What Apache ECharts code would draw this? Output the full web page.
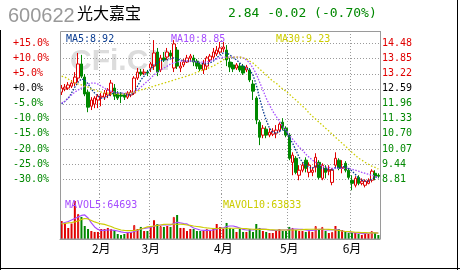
<!DOCTYPE html>
<html><head><meta charset="utf-8">
<script src="https://cdn.jsdelivr.net/npm/echarts@6/dist/echarts.min.js"></script>
<style>html,body{margin:0;padding:0;background:#fff;overflow:hidden}#c{width:460px;height:270px}</style>
</head><body><div id="c"></div>
<script>
const categories = [
"01-16","01-17","01-18","01-19","01-22","01-23","01-24","01-25","01-26","01-29","01-30","01-31",
"02-01","02-02","02-05","02-06","02-07","02-08","02-09","02-12","02-13","02-14","02-22","02-23","02-26","02-27","02-28",
"03-01","03-02","03-05","03-06","03-07","03-08","03-09","03-12","03-13","03-14","03-15","03-16","03-19","03-20","03-21","03-22","03-23","03-26","03-27","03-28","03-29","03-30",
"04-02","04-03","04-04","04-05","04-06","04-09","04-10","04-11","04-12","04-13","04-16","04-17","04-18","04-19","04-20","04-23","04-24","04-25","04-26","04-27",
"05-02","05-03","05-04","05-07","05-08","05-09","05-10","05-11","05-14","05-15","05-16","05-17","05-18","05-21","05-22","05-23","05-24","05-25","05-28",
"06-01","06-04","06-05","06-06","06-07","06-08","06-11","06-12","06-13"];
// [open, close, low, high]
const candles = [
[12.45,12.62,12.33,12.75],[12.58,12.66,12.49,12.79],[12.62,12.75,12.54,12.87],[12.70,12.83,12.62,12.96],[12.83,13.08,12.70,13.29],
[13.04,13.63,12.87,14.09],[13.63,13.12,13.04,14.01],[13.08,12.37,12.28,13.21],[12.45,11.82,11.61,12.54],[11.86,12.12,11.70,12.24],
[11.95,12.20,11.78,12.28],[12.12,12.28,11.78,12.37],[12.24,12.28,11.86,12.41],[12.24,12.41,12.12,12.54],[12.33,12.54,12.20,12.62],
[12.45,12.83,12.28,12.96],[12.62,12.28,12.12,12.79],[12.37,12.20,12.12,12.49],[12.33,12.28,11.99,12.45],[12.33,12.24,12.12,12.41],
[12.24,12.41,12.16,12.49],[12.33,12.45,12.24,12.54],[12.41,13.04,12.33,13.12],[13.04,13.29,12.96,13.46],[13.29,13.21,13.12,13.42],
[13.25,13.29,13.17,13.42],[13.29,13.25,13.12,13.38],[13.46,13.63,13.29,13.71],[13.54,14.09,13.38,14.63],[14.13,13.29,13.12,14.30],
[13.38,13.88,13.29,14.01],[13.88,13.80,13.71,14.13],[13.92,14.13,13.80,14.30],[14.09,13.96,13.88,14.21],[13.46,14.47,13.29,14.63],
[14.21,13.54,13.42,14.34],[13.46,13.54,13.29,13.71],[13.59,13.71,13.50,13.84],[13.71,13.88,13.67,14.01],[13.88,13.96,13.71,14.05],
[13.88,13.71,13.54,14.01],[13.75,13.54,13.42,13.84],[13.59,13.42,13.33,13.67],[13.38,13.63,13.21,13.80],[13.54,13.88,13.38,13.96],
[13.80,13.96,13.71,14.05],[13.92,14.13,13.80,14.30],[14.05,14.21,13.96,14.38],[14.13,14.30,14.05,14.55],[14.26,14.34,14.13,14.55],
[14.21,13.80,13.54,14.42],[13.71,13.50,13.29,13.88],[13.59,13.42,13.29,13.71],[13.46,13.59,13.38,13.67],[13.54,13.38,13.29,13.67],
[13.54,13.25,13.17,13.63],[13.38,13.50,13.29,13.59],[13.38,12.96,12.87,13.46],[12.79,12.49,12.12,12.96],[12.20,11.28,11.11,12.28],
[11.19,10.56,10.23,11.28],[10.65,10.94,10.52,11.07],[10.90,10.65,10.52,11.02],[10.65,10.77,10.56,10.94],[10.69,10.82,10.61,10.94],
[10.73,10.86,10.52,11.07],[10.86,11.11,10.77,11.19],[11.19,10.94,10.86,11.36],[10.94,10.65,10.56,11.02],[10.65,9.68,9.60,10.73],
[9.51,9.81,8.97,9.93],[9.68,9.09,9.01,9.77],[8.97,9.18,8.76,9.39],[9.18,9.39,9.09,9.51],[9.60,9.26,9.09,9.72],
[9.09,9.39,8.88,9.51],[9.09,9.18,8.93,9.30],[9.30,9.72,9.09,9.89],[9.51,8.88,8.80,9.60],[8.84,9.39,8.76,9.47],
[9.26,9.09,8.84,9.39],[9.14,9.18,8.97,9.39],[8.67,9.18,8.55,9.26],[9.39,9.68,9.26,9.93],[9.60,9.26,9.18,9.68],
[9.26,9.30,9.05,9.60],[9.47,9.18,9.09,9.56],[9.18,8.88,8.80,9.26],[8.76,8.63,8.34,8.97],[8.55,8.84,8.46,8.93],
[8.88,8.63,8.55,8.97],[8.63,8.72,8.55,8.84],[8.55,8.72,8.46,8.80],[8.63,8.76,8.59,8.84],[8.76,9.14,8.67,9.22],
[9.05,8.93,8.76,9.18],[8.97,8.93,8.84,9.05]];
const ma5 = [11.95,12.07,12.20,12.41,12.66,12.87,13.00,12.96,12.79,12.58,
12.41,12.28,12.20,12.20,12.28,12.37,12.41,12.41,12.41,12.37,
12.33,12.33,12.45,12.70,12.96,13.12,13.29,13.42,13.59,13.67,
13.75,13.80,13.80,13.84,13.88,13.84,13.80,13.75,13.75,13.75,
13.75,13.71,13.67,13.63,13.63,13.67,13.75,13.88,14.01,14.09,
14.09,14.01,13.88,13.80,13.67,13.54,13.46,13.38,13.17,12.75,
12.20,11.70,11.28,10.94,10.77,10.73,10.82,10.86,10.82,10.56,
10.31,10.02,9.72,9.51,9.39,9.30,9.26,9.35,9.30,9.26,
9.22,9.22,9.18,9.30,9.30,9.30,9.35,9.26,9.14,9.01,
8.84,8.76,8.72,8.72,8.80,8.88,8.92];
const ma10 = [11.99,12.07,12.20,12.33,12.45,12.54,12.62,12.70,12.79,12.83,
12.83,12.79,12.70,12.62,12.54,12.49,12.45,12.41,12.41,12.41,
12.41,12.41,12.45,12.54,12.66,12.79,12.91,13.04,13.17,13.29,
13.38,13.46,13.54,13.63,13.67,13.71,13.75,13.75,13.75,13.75,
13.75,13.71,13.71,13.71,13.71,13.75,13.80,13.84,13.88,13.92,
13.92,13.92,13.92,13.92,13.92,13.88,13.80,13.67,13.46,13.21,
12.87,12.54,12.20,11.91,11.65,11.44,11.23,11.02,10.86,10.65,
10.48,10.31,10.14,10.02,9.85,9.72,9.60,9.51,9.43,9.35,
9.30,9.30,9.26,9.26,9.26,9.26,9.26,9.26,9.22,9.18,
9.14,9.09,9.05,9.01,8.97,8.93,8.85];
const ma30 = [13.12,13.08,13.00,12.91,12.83,12.79,12.75,12.70,12.66,12.58,
12.54,12.49,12.45,12.41,12.41,12.37,12.37,12.37,12.37,12.37,
12.41,12.41,12.45,12.49,12.54,12.58,12.62,12.66,12.70,12.75,
12.79,12.83,12.87,12.91,12.96,13.00,13.04,13.08,13.12,13.17,
13.21,13.29,13.33,13.38,13.42,13.50,13.54,13.63,13.71,13.80,
13.88,13.92,13.92,13.92,13.92,13.88,13.84,13.75,13.67,13.54,
13.42,13.29,13.17,13.04,12.91,12.83,12.70,12.58,12.49,12.37,
12.24,12.12,11.99,11.86,11.74,11.57,11.44,11.32,11.19,11.07,
10.94,10.82,10.69,10.56,10.44,10.31,10.19,10.06,9.93,9.81,
9.68,9.60,9.51,9.43,9.35,9.30,9.23];
const volumes = [194000,167000,119000,167000,410000,270000,238000,140000,108000,86000,
76000,76000,108000,108000,119000,108000,97000,54000,43000,54000,
65000,76000,151000,108000,130000,86000,86000,130000,205000,162000,
140000,130000,140000,130000,238000,259000,119000,119000,86000,108000,
108000,86000,86000,86000,108000,86000,119000,162000,130000,108000,
173000,119000,108000,76000,108000,76000,76000,108000,76000,162000,
119000,86000,76000,65000,65000,86000,108000,86000,86000,130000,
119000,97000,86000,86000,76000,86000,76000,140000,108000,130000,
86000,65000,76000,140000,108000,97000,76000,65000,65000,65000,
54000,43000,54000,54000,86000,65000,43000];
const mavol5 = [167000,178000,189000,205000,221000,238000,254000,259000,227000,173000,
130000,103000,92000,92000,97000,97000,92000,86000,76000,70000,
68000,70000,81000,92000,108000,113000,119000,124000,140000,146000,
151000,151000,151000,151000,167000,180000,173000,167000,162000,140000,
119000,108000,97000,92000,92000,92000,97000,108000,116000,119000,
135000,140000,140000,130000,119000,103000,97000,97000,97000,103000,
108000,108000,103000,97000,92000,92000,97000,97000,97000,103000,
108000,108000,105000,103000,97000,92000,92000,97000,103000,103000,
97000,97000,97000,103000,97000,86000,81000,76000,70000,65000,
62000,59000,59000,62000,65000,65000,64693];
const mavol10 = [162000,167000,173000,178000,184000,194000,211000,221000,216000,200000,
184000,173000,162000,157000,146000,135000,119000,108000,97000,92000,
90000,90000,92000,97000,108000,119000,130000,135000,140000,146000,
151000,157000,159000,159000,159000,159000,159000,157000,151000,146000,
140000,135000,130000,124000,119000,116000,113000,113000,116000,116000,
116000,116000,116000,116000,116000,113000,111000,108000,105000,103000,
103000,103000,103000,100000,99000,97000,97000,97000,97000,97000,
97000,97000,99000,100000,103000,105000,105000,105000,105000,105000,
105000,103000,100000,97000,92000,86000,81000,79000,76000,73000,
71000,69000,68000,67000,66000,65000,63833];
const refPrice = 12.59;
const priceStep = 0.6295;
const header = {code:'600622', name:'光大嘉宝', quote:'2.84 -0.02 (-0.70%)'};

const RED = '#e00000', GREEN = '#008800', GRID = '#9a9a9a';
const C5 = '#0b3d91', C10 = '#a64dff', C30 = '#cccc00';
const MONO = 'DejaVu Sans Mono';

function monthStart(i){ return i>0 && categories[i].slice(0,2)!==categories[i-1].slice(0,2); }
function pctOf(v){ return (v/refPrice-1)*100; }
function inRange(v){ const p=pctOf(v); return p<15.05 && p>-30.05; }

const volData = volumes.map((v,i)=>{
  const c=candles[i]; const up=c[1]>=c[0];
  const hollow = up && (c[1]-c[0])>0.3;
  return {value:v, itemStyle: hollow ? {color:'#fff', borderColor:RED, borderWidth:1} : {color: up?RED:GREEN}};
});

const chart = echarts.init(document.getElementById('c'));
chart.setOption({
  animation:false,
  backgroundColor:'#fff',
  grid:[
    {left:60, top:31, width:320, height:163},
    {left:60, top:194, width:320, height:45}
  ],
  xAxis:[
    {gridIndex:0, type:'category', data:categories, boundaryGap:true,
     axisLine:{show:false}, axisTick:{show:false}, axisLabel:{show:false},
     splitLine:{show:true, interval:(i)=>monthStart(i), lineStyle:{color:GRID, type:[1,2], width:1}}},
    {gridIndex:1, type:'category', data:categories, boundaryGap:true,
     axisLine:{show:true, lineStyle:{color:GRID}}, axisTick:{show:false},
     axisLabel:{interval:(i)=>monthStart(i), formatter:(v)=>parseInt(v.slice(0,2),10)+'月', color:'#000', fontSize:12, fontFamily:'Noto Sans CJK SC', margin:3},
     splitLine:{show:true, interval:(i)=>monthStart(i), lineStyle:{color:GRID, type:[1,2], width:1}}}
  ],
  yAxis:[
    {gridIndex:0, type:'value', position:'left', min:priceStep*13, max:15.0105, interval:priceStep,
     axisLine:{show:false}, axisTick:{show:false},
     axisLabel:{align:'left', margin:47, fontFamily:MONO, fontSize:10,
       formatter:(v)=>{ if(!inRange(v)) return ''; const p=Math.round(pctOf(v)*10)/10; return (p>=0?'+':'')+(Math.abs(p)<0.05?'0.0':p.toFixed(1))+'%'; },
       color:(v)=>{ const p=pctOf(parseFloat(v)); return p>0.05?RED:(p<-0.05?GREEN:'#000'); }},
     splitLine:{show:true, showMinLine:false, showMaxLine:false, lineStyle:{color:GRID, type:[1,2], width:1}}},
    {gridIndex:0, type:'value', position:'right', min:priceStep*13, max:15.0105, interval:priceStep,
     axisLine:{show:false}, axisTick:{show:false}, splitLine:{show:false},
     axisLabel:{align:'left', margin:2, fontFamily:MONO, fontSize:10,
       formatter:(v)=> inRange(v)? v.toFixed(2):'',
       color:(v)=>{ const p=pctOf(parseFloat(v)); return p>0.05?RED:(p<-0.05?GREEN:'#000'); }}},
    {gridIndex:1, type:'value', min:0, max:485000, show:false, splitLine:{show:false}}
  ],
  series:[
    {type:'candlestick', xAxisIndex:0, yAxisIndex:0, data:candles, barWidth:3,
     itemStyle:{color:'#fff', color0:GREEN, borderColor:RED, borderColor0:GREEN, borderWidth:1}},
    {type:'line', xAxisIndex:0, yAxisIndex:0, data:ma5, symbol:'none', silent:true, z:5, lineStyle:{color:C5, width:1.3, type:[1.5,1.5]}},
    {type:'line', xAxisIndex:0, yAxisIndex:0, data:ma10, symbol:'none', silent:true, z:5, lineStyle:{color:C10, width:1.3, type:[1.5,1.5]}},
    {type:'line', xAxisIndex:0, yAxisIndex:0, data:ma30, symbol:'none', silent:true, z:5, lineStyle:{color:C30, width:1.3, type:[1.5,2]}},
    {type:'bar', xAxisIndex:1, yAxisIndex:2, data:volData, barWidth:2},
    {type:'line', xAxisIndex:1, yAxisIndex:2, data:mavol5, symbol:'none', silent:true, z:5, lineStyle:{color:C10, width:1.2}},
    {type:'line', xAxisIndex:1, yAxisIndex:2, data:mavol10, symbol:'none', silent:true, z:5, lineStyle:{color:C30, width:1.2}}
  ],
  graphic:[
    {type:'text', left:70, top:47, z:0, style:{text:'CFi.CN', font:'bold 30px "Liberation Sans"', fill:'#dcdcdc'}},
    {type:'rect', shape:{x:60.5, y:31.5, width:320, height:207.5}, style:{fill:'none', stroke:GRID, lineWidth:1}, z:10},
    {type:'line', shape:{x1:0.5, y1:30, x2:0.5, y2:270}, style:{stroke:'#000', lineWidth:1}},
    {type:'line', shape:{x1:457.5, y1:0, x2:457.5, y2:270}, style:{stroke:'#000', lineWidth:1}},
    {type:'line', shape:{x1:0, y1:268.5, x2:460, y2:268.5}, style:{stroke:'#000', lineWidth:1}},
    {type:'text', x:8, y:6, style:{text:header.code, font:'20px "Liberation Sans"', fill:'#999'}},
    {type:'text', x:77, y:5, style:{text:header.name, font:'16px "Noto Sans CJK SC"', fill:'#000'}},
    {type:'text', x:228, y:7, style:{text:header.quote, font:'13px "DejaVu Sans Mono"', fill:GREEN}},
    {type:'text', x:66, y:34, z:20, style:{text:'MA5:'+ma5[ma5.length-1].toFixed(2), font:'10px "DejaVu Sans Mono"', fill:C5}},
    {type:'text', x:171, y:34, z:20, style:{text:'MA10:'+ma10[ma10.length-1].toFixed(2), font:'10px "DejaVu Sans Mono"', fill:C10}},
    {type:'text', x:276, y:34, z:20, style:{text:'MA30:'+ma30[ma30.length-1].toFixed(2), font:'10px "DejaVu Sans Mono"', fill:C30}},
    {type:'text', x:65, y:200, z:20, style:{text:'MAVOL5:'+mavol5[mavol5.length-1], font:'10px "DejaVu Sans Mono"', fill:C10}},
    {type:'text', x:223, y:200, z:20, style:{text:'MAVOL10:'+mavol10[mavol10.length-1], font:'10px "DejaVu Sans Mono"', fill:C30}}
  ]
});
</script></body></html>
